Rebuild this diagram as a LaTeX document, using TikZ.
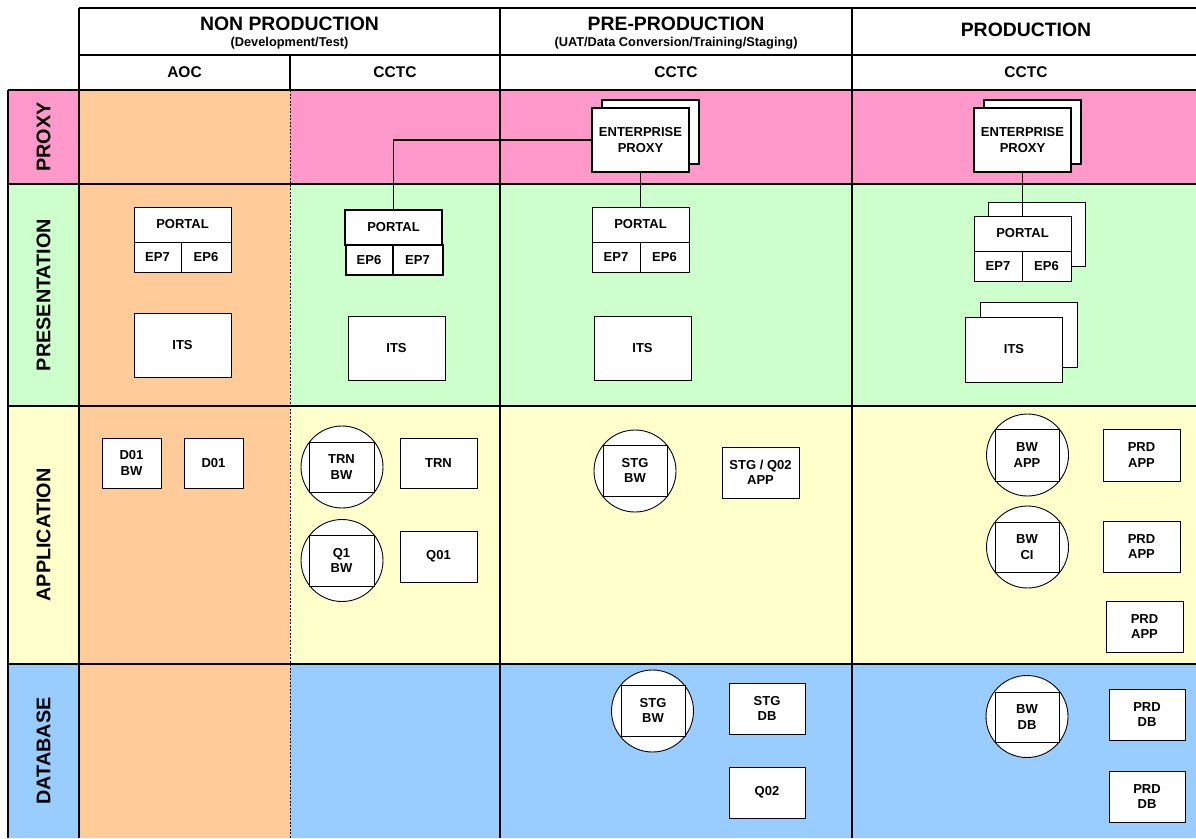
\documentclass[tikz,border=0pt]{standalone}
\usepackage{fontspec}
\setmainfont{Liberation Sans}
\definecolor{cpink}{HTML}{FF99CC}
\definecolor{corange}{HTML}{FFCC99}
\definecolor{cgreen}{HTML}{CCFFCC}
\definecolor{cyellow}{HTML}{FFFFCC}
\definecolor{cblue}{HTML}{99CCFF}
\begin{document}
\begin{tikzpicture}[x=1pt,y=-1pt,
  nf/.style={font=\fontsize{13}{15.5}\selectfont\bfseries},
  bx/.style 2 args={draw=black, fill=white, line width=0.9pt, nf, align=center,
    inner sep=0pt, minimum width=#1, minimum height=#2},
  thickbx/.style={line width=2pt},
  ring/.style={draw=black, fill=white, circle, line width=0.9pt, inner sep=0pt, minimum size=82},
  grid/.style={line width=1.1pt, black},
  rowlabel/.style={rotate=90, font=\fontsize{19.8}{22}\selectfont\bfseries},
  title/.style={font=\fontsize{19.4}{22}\selectfont\bfseries},
  subtitle/.style={font=\fontsize{12.8}{14}\selectfont\bfseries},
  colhead/.style={font=\fontsize{15.5}{18}\selectfont\bfseries},
  link/.style={line width=1.8pt, black}
]
\useasboundingbox (0,0) rectangle (1196,838);
\fill[white] (0,0) rectangle (1196,838);
% row bands
\fill[cpink] (8,90) rectangle (1196,184);
\fill[cgreen] (8,184) rectangle (1196,406);
\fill[cyellow] (8,406) rectangle (1196,664);
\fill[cblue] (8,664) rectangle (1196,838);
% AOC column
\fill[corange] (79,90) rectangle (290,838);
% grid lines
\draw[grid] (79,8) -- (1196,8);
\draw[grid] (79,55) -- (1196,55);
\draw[grid] (8,90) -- (1196,90);
\draw[grid] (8,184) -- (1196,184);
\draw[grid] (8,406) -- (1196,406);
\draw[grid] (8,664) -- (1196,664);
\draw[grid] (8,90) -- (8,838);
\draw[grid] (79,8) -- (79,838);
\draw[grid] (500,8) -- (500,838);
\draw[grid] (852,8) -- (852,838);
\draw[grid] (290,55) -- (290,90);
\draw[line width=0.6pt, dash pattern=on 2pt off 1.5pt] (290,90) -- (290,838);
% headers
\node[title] (hnp) at (289.5,23.5) {NON PRODUCTION};
\node[subtitle] (hnps) at (289.5,43.5) {(Development/Test)};
\node[title] (hpp) at (676,23.5) {PRE-PRODUCTION};
\node[subtitle] (hpps) at (676,43.5) {(UAT/Data Conversion/Training/Staging)};
\node[title] (hpr) at (1026,30) {PRODUCTION};
\node[colhead] (haoc) at (184.5,72.5) {AOC};
\node[colhead] (hc1) at (395,72.5) {CCTC};
\node[colhead] (hc2) at (676,72.5) {CCTC};
\node[colhead] (hc3) at (1026,72.5) {CCTC};
% row labels
\node[rowlabel] (lproxy) at (43.5,137) {PROXY};
\node[rowlabel] (lpres) at (43.5,295) {PRESENTATION};
\node[rowlabel] (lapp) at (43.5,535) {APPLICATION};
\node[rowlabel] (ldb) at (43.5,751) {DATABASE};
% proxy
\node[bx={97}{64}, thickbx] (ppb) at (650.5,132) {};
\node[bx={97}{64}, thickbx] (pp) at (640.5,140) {ENTERPRISE\\PROXY};
\node[bx={97}{64}, thickbx] (prpb) at (1032.5,132) {};
\node[bx={97}{64}, thickbx] (prp) at (1022.5,140) {ENTERPRISE\\PROXY};
% portals
\node[bx={97}{35}] (aportal) at (182.5,224.5) {PORTAL};
\node[bx={47}{30}] (aep7) at (157.5,257) {EP7};
\node[bx={50}{30}] (aep6) at (206,257) {EP6};
\node[bx={97}{35}, line width=2pt] (nportal) at (393.5,227.5) {PORTAL};
\node[bx={47}{30}, line width=2pt] (nep6) at (369,260) {EP6};
\node[bx={50}{30}, line width=2pt] (nep7) at (417.5,260) {EP7};
\node[bx={97}{35}] (pportal) at (640.5,224.5) {PORTAL};
\node[bx={48}{30}] (pep7) at (616,257) {EP7};
\node[bx={49}{30}] (pep6) at (664.5,257) {EP6};
\node[bx={97}{64}] (rportalb) at (1036.5,234) {};
\node[bx={97}{35}] (rportal) at (1022.5,233.5) {PORTAL};
\node[bx={48}{30}] (rep7) at (998,266) {EP7};
\node[bx={49}{30}] (rep6) at (1046.5,266) {EP6};
% ITS
\node[bx={97}{64}] (aits) at (182.5,345) {ITS};
\node[bx={97}{64}] (nits) at (396.5,348) {ITS};
\node[bx={97}{64}] (pits) at (642.5,348) {ITS};
\node[bx={97}{65}] (ritsb) at (1028.5,334.5) {};
\node[bx={97}{65}] (rits) at (1014,349.5) {ITS};
% application
\node[bx={59}{50}] (d01bw) at (131.5,463) {D01\\BW};
\node[bx={59}{50}] (d01) at (213.5,463) {D01};
\node[ring] (trnc) at (342,467) {};
\node[bx={65}{50}] (trnbw) at (341.5,467) {TRN\\BW};
\node[bx={77}{50}] (trn) at (438.5,463) {TRN};
\node[ring] (q1c) at (342,560.5) {};
\node[bx={65}{51}] (q1bw) at (341.5,560.5) {Q1\\BW};
\node[bx={77}{51}] (q01) at (438.5,556.5) {Q01};
\node[ring] (stgac) at (635,471) {};
\node[bx={64}{51}] (stgabw) at (635,470.5) {STG\\BW};
\node[bx={77}{51}] (stgapp) at (760.5,472.5) {STG / Q02\\APP};
\node[ring] (bwappc) at (1027.5,455) {};
\node[bx={64}{52}] (bwapp) at (1027,455) {BW\\APP};
\node[bx={77}{52}] (prdapp1) at (1141.5,455) {PRD\\APP};
\node[ring] (bwcic) at (1027.5,547) {};
\node[bx={64}{50}] (bwci) at (1027,547) {BW\\CI};
\node[bx={77}{51}] (prdapp2) at (1141.5,546.5) {PRD\\APP};
\node[bx={77}{51}] (prdapp3) at (1144.5,626.5) {PRD\\APP};
% database
\node[ring] (stgdc) at (652.5,711) {};
\node[bx={64}{51}] (stgdbw) at (653,710.5) {STG\\BW};
\node[bx={76}{51}] (stgdb) at (767,708.5) {STG\\DB};
\node[bx={76}{51}] (q02) at (767,792.5) {Q02};
\node[ring] (bwdbc) at (1027,716.5) {};
\node[bx={64}{50}] (bwdb) at (1027,717) {BW\\DB};
\node[bx={76}{51}] (prddb1) at (1147,714.5) {PRD\\DB};
\node[bx={76}{51}] (prddb2) at (1147,796.5) {PRD\\DB};
% connectors
\draw[link] (pp.west) -| (nportal.north);
\draw[link] (pp.south) -- (pportal.north);
\draw[link] (prp.south) -- (rportal.north);
\end{tikzpicture}
\end{document}
